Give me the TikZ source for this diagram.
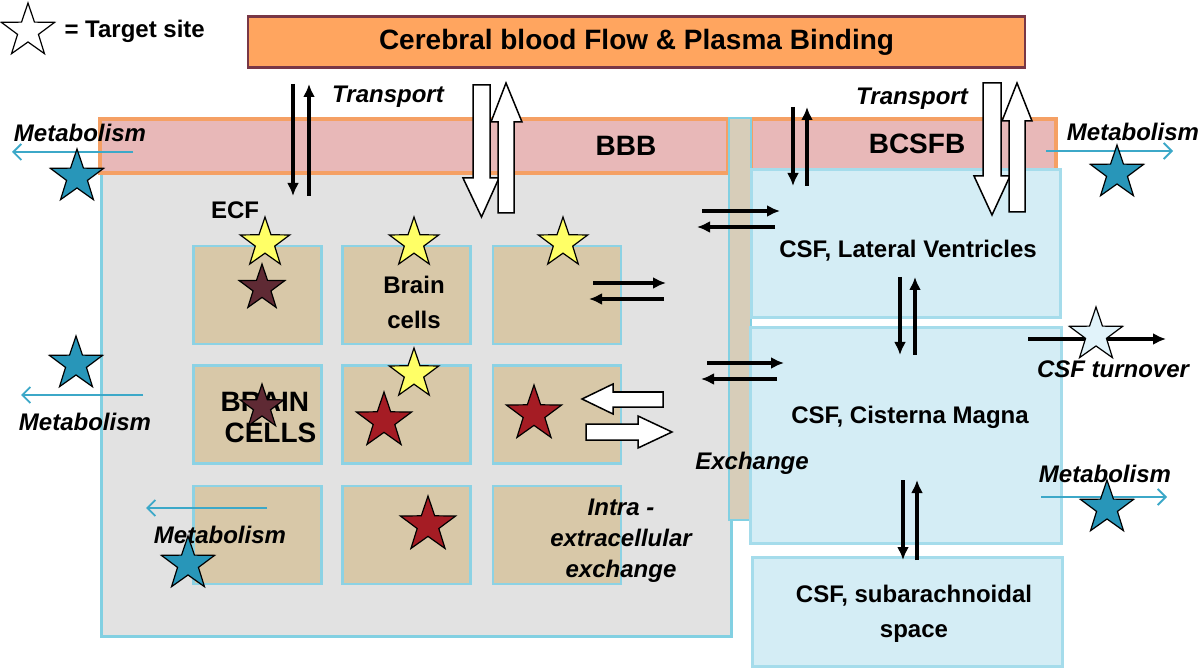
\documentclass[tikz,border=0pt]{standalone}
\usepackage{fontspec}
\setmainfont{Liberation Sans}
\usetikzlibrary{calc}
\usetikzlibrary{shapes.geometric}
\usetikzlibrary{arrows.meta}
\definecolor{plasma}{RGB}{255,165,95}
\definecolor{plasmaline}{RGB}{120,55,70}
\definecolor{bandfill}{RGB}{232,184,184}
\definecolor{bandline}{RGB}{245,160,100}
\definecolor{ecffill}{RGB}{226,226,226}
\definecolor{ecfline}{RGB}{130,208,226}
\definecolor{cellfill}{RGB}{216,200,168}
\definecolor{cellline}{RGB}{140,210,228}
\definecolor{stripfill}{RGB}{215,205,185}
\definecolor{csffill}{RGB}{212,237,245}
\definecolor{csfline}{RGB}{165,220,235}
\definecolor{tealstar}{RGB}{40,150,185}
\definecolor{tealline}{RGB}{60,168,200}
\definecolor{ecfstar}{RGB}{255,255,102}
\definecolor{cellstar}{RGB}{95,42,52}
\definecolor{redstar}{RGB}{165,28,36}
\definecolor{csfstar}{RGB}{225,243,250}

\begin{document}
\begin{tikzpicture}[x=1pt, y=-1pt,
	Pfeil/.style={line width=3.6pt, arrows = -{Latex[length=13pt, width=12pt]}},
	Abbau/.style={draw=tealline, line width=1.8pt, arrows = -{Straight Barb[length=8pt, width=16pt, line width=1.8pt]}},
	Block/.style={draw, fill=white, line width=1.5pt, line join=miter},
	Stern/.style={star, star points=5, star point ratio=2.55, draw, line width=1.2pt, inner sep=0pt},
	Zelle/.style={draw=cellline, fill=cellfill, line width=2.5pt, minimum width=128pt, minimum height=98pt},
	Liquor/.style={draw=csfline, fill=csffill, line width=3pt},
	Fett/.style={font=\bfseries\fontsize{24}{35}\selectfont},
	Gross/.style={font=\bfseries\fontsize{28}{31}\selectfont},
	Kursiv/.style={font=\bfseries\itshape\fontsize{24}{31}\selectfont}]
				\useasboundingbox (0,0) rectangle (1200,668);
				\node[Stern, fill=white, minimum size=56pt] (legstar) at (28,31) {};
				\node[font=\bfseries\fontsize{24}{28}\selectfont, anchor=west] (leg) at (61,31) {= Target site};
				\node[draw=plasmaline, fill=plasma, line width=2.5pt, minimum width=777pt, minimum height=51pt, Gross] (cbf) at (636.5,42) {Cerebral blood Flow \& Plasma Binding};
				\node[draw=ecfline, fill=ecffill, line width=3pt, minimum width=630pt, minimum height=463pt] (ecf) at (416,404.5) {};
				\node[draw=bandline, fill=bandfill, line width=3.5pt, minimum width=628pt, minimum height=54pt] (bbb) at (414,146) {};
				\node[draw=bandline, fill=bandfill, line width=3.5pt, minimum width=305pt, minimum height=52pt] (bcsfb) at (903.5,145) {};
				\node[draw=ecfline, fill=stripfill, line width=1.5pt, minimum width=22pt, minimum height=402pt] (strip) at (740,319) {};
				\node[Liquor, minimum width=309pt, minimum height=148pt] (lv) at (905.5,244) {};
				\node[Liquor, minimum width=311pt, minimum height=215pt] (cm) at (905.5,435.5) {};
				\node[Liquor, minimum width=310pt, minimum height=109pt] (sa) at (907,611.5) {};
				\node[Zelle] (c11) at (257.5,295) {};
				\node[Zelle] (c12) at (406.5,295) {};
				\node[Zelle] (c13) at (557,295) {};
				\node[Zelle] (c21) at (257.5,414.5) {};
				\node[Zelle] (c22) at (406.5,414.5) {};
				\node[Zelle] (c23) at (557,414.5) {};
				\node[Zelle] (c31) at (257.5,535) {};
				\node[Zelle] (c32) at (406.5,535) {};
				\node[Zelle] (c33) at (557,535) {};
				\node[Gross] (bbblab) at (626,146) {BBB};
				\node[Gross] (bcsfblab) at (917,144) {BCSFB};
				\node[Fett] (ecflab) at (235,210) {ECF};
				\node[Fett, align=center] (cellslab) at (414,302) {Brain\\cells};
				\node[Gross, align=left, anchor=west] (bigcells) at (217,418) {BRAIN\\\hspace*{4pt}CELLS};
				\node[Kursiv, align=center] (intra) at (621,541) {Intra -\\extracellular\\exchange};
				\node[Kursiv] (exch) at (752,463) {Exchange};
				\node[Kursiv] (tr1) at (388,97) {Transport};
				\node[Kursiv] (tr2) at (912,99) {Transport};
				\node[Fett] (lvlab) at (908,251) {CSF, Lateral Ventricles};
				\node[Fett] (cmlab) at (910,417) {CSF, Cisterna Magna};
				\node[Fett, align=center] (salab) at (914,614) {CSF, subarachnoidal\\space};
				\node[Kursiv] (turn) at (1113,369) {CSF turnover};
				\node[Kursiv] (met1) at (80,133) {Metabolism};
				\node[Kursiv] (met2) at (1133,132) {Metabolism};
				\node[Kursiv] (met3) at (85,422) {Metabolism};
				\node[Kursiv] (met4) at (220,535) {Metabolism};
				\node[Kursiv] (met5) at (1105,474) {Metabolism};
				\coordinate (a1o) at (293,84);
				\coordinate (a1u) at (293,196);
				\coordinate (b1o) at (309,84);
				\coordinate (b1u) at (309,196);
				\coordinate (a2o) at (793,107);
				\coordinate (a2u) at (793,186);
				\coordinate (b2o) at (807,107);
				\coordinate (b2u) at (807,186);
				\coordinate (a3o) at (900,277);
				\coordinate (a3u) at (900,355);
				\coordinate (b3o) at (915,277);
				\coordinate (b3u) at (915,355);
				\coordinate (a4o) at (903,480);
				\coordinate (a4u) at (903,560);
				\coordinate (b4o) at (917,480);
				\coordinate (b4u) at (917,560);
				\coordinate (x1l) at (702,211);
				\coordinate (x1r) at (780,211);
				\coordinate (y1l) at (697,227);
				\coordinate (y1r) at (775,227);
				\coordinate (x2l) at (593,283);
				\coordinate (x2r) at (666,283);
				\coordinate (y2l) at (589,299);
				\coordinate (y2r) at (664,299);
				\coordinate (x3l) at (707,363);
				\coordinate (x3r) at (784,363);
				\coordinate (y3l) at (701,379);
				\coordinate (y3r) at (777,379);
				\coordinate (t1) at (1028,339);
				\coordinate (t2) at (1166,339);
				\draw[Pfeil] (a1o) -- (a1u);
				\draw[Pfeil] (b1u) -- (b1o);
				\draw[Pfeil] (a2o) -- (a2u);
				\draw[Pfeil] (b2u) -- (b2o);
				\draw[Pfeil] (a3o) -- (a3u);
				\draw[Pfeil] (b3u) -- (b3o);
				\draw[Pfeil] (a4o) -- (a4u);
				\draw[Pfeil] (b4u) -- (b4o);
				\draw[Pfeil] (x1l) -- (x1r);
				\draw[Pfeil] (y1r) -- (y1l);
				\draw[Pfeil] (x2l) -- (x2r);
				\draw[Pfeil] (y2r) -- (y2l);
				\draw[Pfeil] (x3l) -- (x3r);
				\draw[Pfeil] (y3r) -- (y3l);
				\draw[Pfeil] (t1) -- (t2);
				\draw[Block] (473,85) -- (490,85) -- (490,178) -- (499,178) -- (481.5,217) -- (463,178) -- (473,178) -- cycle;
				\draw[Block] (498,213) -- (514,213) -- (514,122) -- (522,122) -- (506,83) -- (491,122) -- (498,122) -- cycle;
				\draw[Block] (983,83) -- (1001,83) -- (1001,176) -- (1010,176) -- (992,215) -- (974,176) -- (983,176) -- cycle;
				\draw[Block] (1009,212) -- (1025,212) -- (1025,121) -- (1032,121) -- (1017,83) -- (1002,121) -- (1009,121) -- cycle;
				\draw[Block] (663,392) -- (663,407) -- (613,407) -- (613,414) -- (582,399) -- (613,384) -- (613,392) -- cycle;
				\draw[Block] (586,424) -- (638,424) -- (638,416) -- (672,432) -- (638,448) -- (638,440) -- (586,440) -- cycle;
				\coordinate (m1a) at (133,152);
				\coordinate (m1b) at (12,152);
				\coordinate (m2a) at (1046,151);
				\coordinate (m2b) at (1173,151);
				\coordinate (m3a) at (143,395);
				\coordinate (m3b) at (21,395);
				\coordinate (m4a) at (267,508);
				\coordinate (m4b) at (146,508);
				\coordinate (m5a) at (1041,497);
				\coordinate (m5b) at (1167,497);
				\draw[Abbau] (m1a) -- (m1b);
				\draw[Abbau] (m2a) -- (m2b);
				\draw[Abbau] (m3a) -- (m3b);
				\draw[Abbau] (m4a) -- (m4b);
				\draw[Abbau] (m5a) -- (m5b);
				\node[Stern, fill=tealstar, minimum size=56pt] (s1) at (77,177) {};
				\node[Stern, fill=tealstar, minimum size=56pt] (s2) at (1117,173) {};
				\node[Stern, fill=tealstar, minimum size=56pt] (s3) at (76,364) {};
				\node[Stern, fill=tealstar, minimum size=56pt] (s4) at (1107,508) {};
				\node[Stern, fill=tealstar, minimum size=56pt] (s5) at (188,564) {};
				\node[Stern, fill=csfstar, minimum size=56pt] (s6) at (1096,335) {};
				\node[Stern, fill=ecfstar, minimum size=52pt] (y1) at (265,243) {};
				\node[Stern, fill=ecfstar, minimum size=52pt] (y2) at (414,243) {};
				\node[Stern, fill=ecfstar, minimum size=52pt] (y3) at (563,243) {};
				\node[Stern, fill=ecfstar, minimum size=52pt] (y4) at (414,374) {};
				\node[Stern, fill=cellstar, minimum size=48pt] (p1) at (262,288) {};
				\node[Stern, fill=cellstar, minimum size=46pt] (p2) at (262,407) {};
				\node[Stern, fill=redstar, minimum size=58pt] (r1) at (384,421) {};
				\node[Stern, fill=redstar, minimum size=58pt] (r2) at (534,414) {};
				\node[Stern, fill=redstar, minimum size=58pt] (r3) at (428,525) {};
			\end{tikzpicture}
\end{document}
